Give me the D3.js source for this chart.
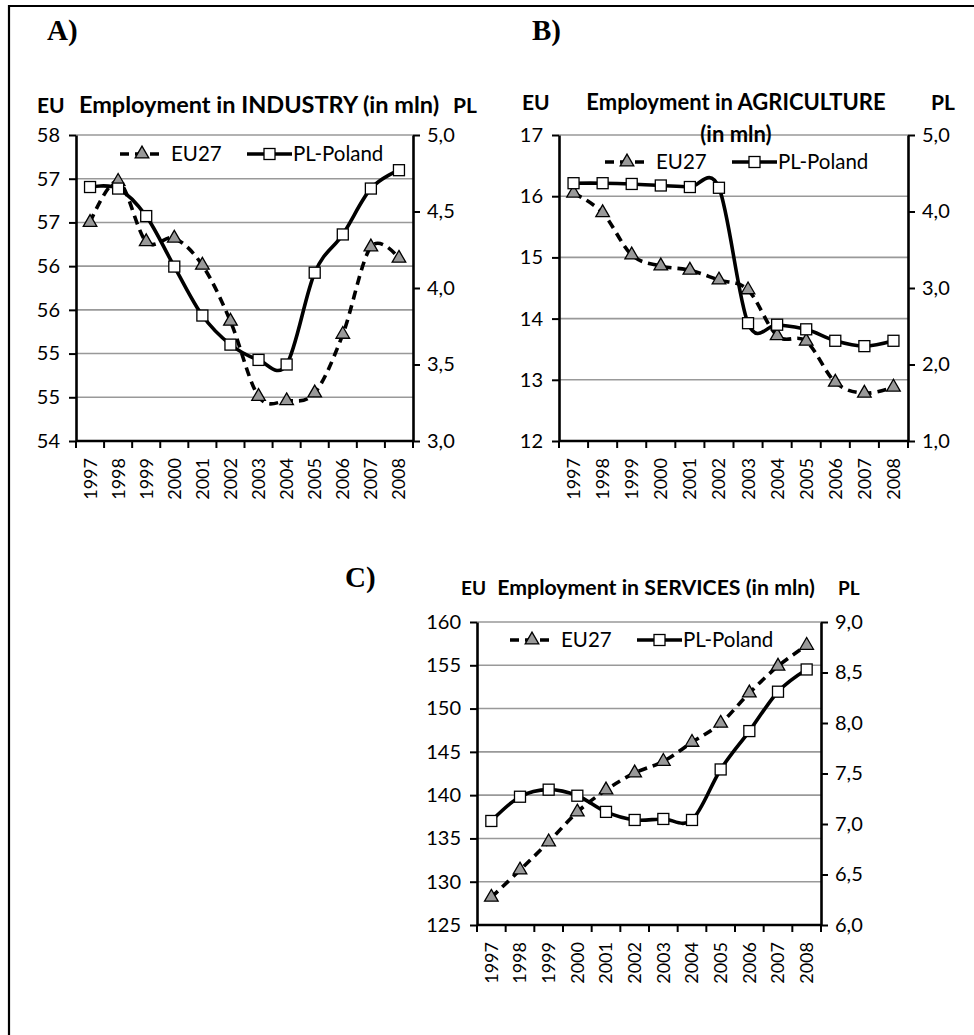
<!DOCTYPE html>
<html>
<head>
<meta charset="utf-8">
<script src="https://cdn.jsdelivr.net/npm/d3@7"></script>
<style>
  body { margin: 0; background: #fff; }
  svg { display: block; }
</style>
</head>
<body>
<svg id="chart"></svg>
<script>
const years = ["1997", "1998", "1999", "2000", "2001", "2002", "2003", "2004", "2005", "2006", "2007", "2008"]

// A) industry
const industryEU = [56.5, 56.97, 56.28, 56.32, 56.01, 55.37, 54.51, 54.46, 54.55, 55.22, 56.22, 56.09]
const industryPL = [4.66, 4.65, 4.47, 4.14, 3.82, 3.63, 3.53, 3.5, 4.1, 4.35, 4.65, 4.77]
const industryEUTicks = [54, 54.5, 55, 55.5, 56, 56.5, 57, 57.5]
const industryPLTicks = [3, 3.5, 4, 4.5, 5]

// B) agriculture
const agricultureEU = [16.05, 15.73, 15.04, 14.86, 14.79, 14.63, 14.47, 13.72, 13.63, 12.96, 12.78, 12.88]
const agriculturePL = [4.37, 4.37, 4.36, 4.34, 4.32, 4.31, 2.54, 2.52, 2.46, 2.31, 2.24, 2.31]
const agricultureEUTicks = [12, 13, 14, 15, 16, 17]
const agriculturePLTicks = [1, 2, 3, 4, 5]

// C) services
const servicesEU = [128.2, 131.35, 134.6, 138.05, 140.6, 142.56, 143.9, 146.1, 148.3, 151.8, 154.9, 157.3]
const servicesPL = [7.03, 7.27, 7.34, 7.28, 7.12, 7.04, 7.05, 7.04, 7.54, 7.92, 8.31, 8.53]
const servicesEUTicks = [125, 130, 135, 140, 145, 150, 155, 160]
const servicesPLTicks = [6, 6.5, 7, 7.5, 8, 8.5, 9]

const seriesNames = ["EU27", "PL-Poland"]

const w = 974
const h = 1035
const font = "Lato, 'Open Sans', sans-serif"

const svg = d3.select("#chart").attr("width", w).attr("height", h)

// frame (only top and left edges are visible)
svg.append("line").attr("x1", 9).attr("x2", w).attr("y1", 6).attr("y2", 6)
  .attr("stroke", "#000").attr("stroke-width", 2.2)
svg.append("line").attr("x1", 9).attr("x2", 9).attr("y1", 5).attr("y2", h)
  .attr("stroke", "#000").attr("stroke-width", 2.2)

const euFmt = (d) => String(Math.round(d))
const plFmt = (d) => d3.format(".1f")(d).replace(".", ",")

const panels = [
  {
    letter: "A)", letterX: 47, letterY: 40,
    title: ["Employment in INDUSTRY (in mln)"], titleX: 259, titleY: 113, titleSize: 23.5,
    euX: 37, plX: 453, axisLabelY: 113, axisLabelSize: 21,
    x0: 76, x1: 413, y0: 135, y1: 441,
    eu: industryEU, pl: industryPL, euTicks: industryEUTicks, plTicks: industryPLTicks,
    legendX: 120, legendY: 154,
  },
  {
    letter: "B)", letterX: 532, letterY: 40,
    title: ["Employment in AGRICULTURE", "(in mln)"], titleX: 736, titleY: 110, titleSize: 22,
    euX: 522, plX: 931, axisLabelY: 110, axisLabelSize: 21,
    x0: 559, x1: 908, y0: 135, y1: 441,
    eu: agricultureEU, pl: agriculturePL, euTicks: agricultureEUTicks, plTicks: agriculturePLTicks,
    legendX: 605, legendY: 162,
  },
  {
    letter: "C)", letterX: 345, letterY: 587,
    title: ["Employment in SERVICES (in mln)"], titleX: 656, titleY: 595, titleSize: 21.3,
    euX: 461, plX: 838, axisLabelY: 595, axisLabelSize: 19,
    x0: 477, x1: 821, y0: 622, y1: 925,
    eu: servicesEU, pl: servicesPL, euTicks: servicesEUTicks, plTicks: servicesPLTicks,
    legendX: 510, legendY: 640,
  },
]

const triangle = d3.symbol(d3.symbolTriangle, 80)

const drawPanel = (p) => {
  const g = svg.append("g")

  const xScale = d3.scaleBand().domain(years).range([p.x0, p.x1])
  const yEU = d3.scaleLinear()
    .domain([d3.min(p.euTicks), d3.max(p.euTicks)])
    .range([p.y1, p.y0])
  const yPL = d3.scaleLinear()
    .domain([d3.min(p.plTicks), d3.max(p.plTicks)])
    .range([p.y1, p.y0])
  const cx = (d) => xScale(d) + xScale.bandwidth() / 2

  // gridlines
  g.append("g")
    .selectAll("line")
    .data(p.euTicks.slice(1))
    .enter()
    .append("line")
    .attr("x1", p.x0).attr("x2", p.x1)
    .attr("y1", (d) => yEU(d)).attr("y2", (d) => yEU(d))
    .attr("stroke", "#999").attr("stroke-width", 1.6)

  // left axis
  const leftAxis = d3.axisLeft(yEU).tickValues(p.euTicks).tickFormat(euFmt)
    .tickSizeInner(7).tickSizeOuter(0).tickPadding(9)
  const gl = g.append("g").attr("transform", `translate(${p.x0},0)`).call(leftAxis)

  // right axis
  const rightAxis = d3.axisRight(yPL).tickValues(p.plTicks).tickFormat(plFmt)
    .tickSizeInner(7).tickSizeOuter(0).tickPadding(7)
  const gr = g.append("g").attr("transform", `translate(${p.x1},0)`).call(rightAxis)

  // bottom axis: ticks at category boundaries
  const edges = years.map((d) => xScale(d)).concat([p.x1])
  g.append("line").attr("x1", p.x0).attr("x2", p.x1).attr("y1", p.y1).attr("y2", p.y1)
    .attr("stroke", "#000").attr("stroke-width", 2.6)
  g.append("g").selectAll("line").data(edges).enter().append("line")
    .attr("x1", (d) => d).attr("x2", (d) => d)
    .attr("y1", p.y1).attr("y2", p.y1 + 7)
    .attr("stroke", "#000").attr("stroke-width", 2)
  g.append("g").selectAll("text").data(years).enter().append("text")
    .attr("transform", (d) => `translate(${cx(d)},${p.y1 + 17}) rotate(-90)`)
    .attr("dy", "0.36em")
    .attr("text-anchor", "end")
    .style("font-family", font).style("font-size", "18px").attr("fill", "#000")
    .text((d) => d)

  ;[gl, gr].forEach((a) => {
    a.select(".domain").attr("stroke", "#000").attr("stroke-width", 2.6)
    a.selectAll(".tick line").attr("stroke", "#000").attr("stroke-width", 2)
    a.selectAll(".tick text").style("font-family", font).style("font-size", "20px").attr("fill", "#000")
  })

  // lines
  const lineEU = d3.line().x((d, i) => cx(years[i])).y((d) => yEU(d)).curve(d3.curveCardinal.tension(0))
  const linePL = d3.line().x((d, i) => cx(years[i])).y((d) => yPL(d)).curve(d3.curveCardinal.tension(0))

  g.append("path").datum(p.eu).attr("d", lineEU)
    .attr("fill", "none").attr("stroke", "#000").attr("stroke-width", 3.6)
    .attr("stroke-dasharray", "9,6")
  g.append("g").selectAll("path").data(p.eu).enter().append("path")
    .attr("d", triangle)
    .attr("transform", (d, i) => `translate(${cx(years[i])},${yEU(d)})`)
    .attr("fill", "#999").attr("stroke", "#000").attr("stroke-width", 1.3)

  g.append("path").datum(p.pl).attr("d", linePL)
    .attr("fill", "none").attr("stroke", "#000").attr("stroke-width", 3.6)
  g.append("g").selectAll("rect").data(p.pl).enter().append("rect")
    .attr("x", (d, i) => cx(years[i]) - 5.5)
    .attr("y", (d) => yPL(d) - 5.5)
    .attr("width", 11).attr("height", 11)
    .attr("fill", "#fff").attr("stroke", "#000").attr("stroke-width", 1.3)

  // titles
  g.append("text").attr("x", p.letterX).attr("y", p.letterY)
    .style("font-family", "'Liberation Serif', 'Times New Roman', serif")
    .style("font-size", "29px").style("font-weight", "bold").text(p.letter)
  p.title.forEach((t, i) => {
    g.append("text").attr("x", p.titleX).attr("y", p.titleY + i * 32)
      .attr("text-anchor", "middle")
      .style("font-family", font).style("font-size", `${p.titleSize}px`).style("font-weight", "bold")
      .text(t)
  })
  g.append("text").attr("x", p.euX).attr("y", p.axisLabelY)
    .style("font-family", font).style("font-size", `${p.axisLabelSize}px`).style("font-weight", "bold").text("EU")
  g.append("text").attr("x", p.plX).attr("y", p.axisLabelY)
    .style("font-family", font).style("font-size", `${p.axisLabelSize}px`).style("font-weight", "bold").text("PL")

  // legend
  const lg = g.append("g").attr("transform", `translate(${p.legendX},${p.legendY})`)
  lg.append("line").attr("x1", 0).attr("x2", 44).attr("y1", 0).attr("y2", 0)
    .attr("stroke", "#000").attr("stroke-width", 3.6).attr("stroke-dasharray", "9,6")
  lg.append("path").attr("d", triangle).attr("transform", "translate(22,0)")
    .attr("fill", "#999").attr("stroke", "#000").attr("stroke-width", 1.3)
  lg.append("text").attr("x", 51).attr("y", 0).attr("dy", "0.35em")
    .style("font-family", font).style("font-size", "20.5px").text(seriesNames[0])
  lg.append("line").attr("x1", 127).attr("x2", 172).attr("y1", 0).attr("y2", 0)
    .attr("stroke", "#000").attr("stroke-width", 3.6)
  lg.append("rect").attr("x", 144).attr("y", -5.5).attr("width", 11).attr("height", 11)
    .attr("fill", "#fff").attr("stroke", "#000").attr("stroke-width", 1.3)
  lg.append("text").attr("x", 173).attr("y", 0).attr("dy", "0.35em")
    .style("font-family", font).style("font-size", "20.5px").text(seriesNames[1])
}

panels.forEach(drawPanel)
</script>
</body>
</html>
